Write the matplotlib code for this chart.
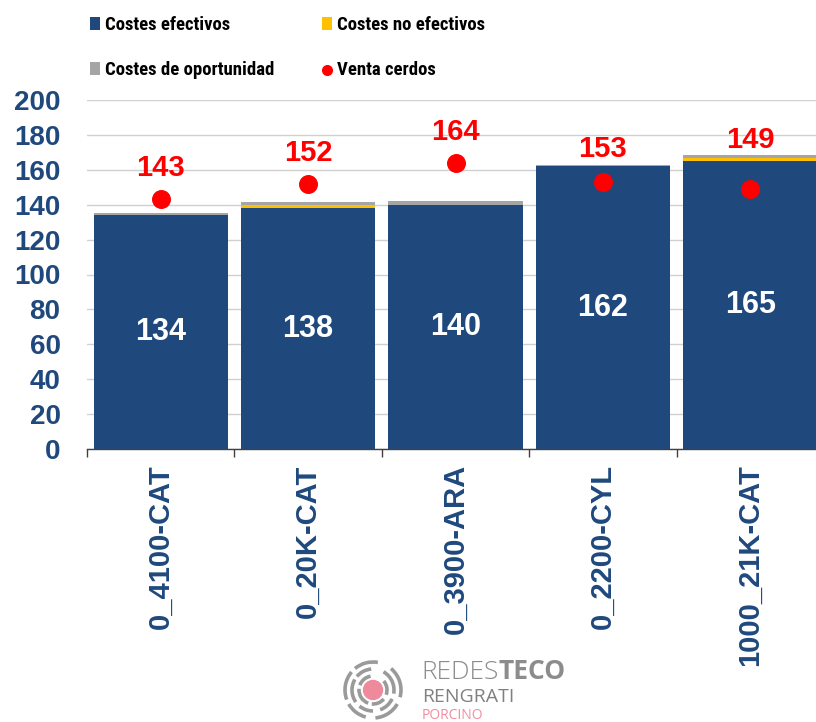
import matplotlib
matplotlib.use("Agg")
import matplotlib.pyplot as plt
import numpy as np
from matplotlib.patches import Arc, Circle
from matplotlib import font_manager

plt.rcParams['font.family'] = ['Liberation Sans', 'DejaVu Sans']

# ---- data ----
categories = ["0_4100-CAT", "0_20K-CAT", "0_3900-ARA", "0_2200-CYL", "1000_21K-CAT"]
costes_efectivos = [134, 138, 140, 162, 165]
costes_no_efectivos = [0, 2, 0, 0, 1.5]
costes_oportunidad = [1.5, 1.5, 2, 1, 1.7]
venta_cerdos = [143, 152, 164, 153, 149]
yticks = list(range(0, 201, 20))

BLUE = '#1F497D'
YELLOW = '#FFC000'
GRAY = '#A5A5A5'
RED = '#FF0000'

W, H = 816, 722
fig = plt.figure(figsize=(W / 100, H / 100), dpi=100)
ax = fig.add_axes([87 / W, 1 - 449 / H, (824 - 87) / W, 349 / H])

x = np.arange(len(categories))
bw = 0.91
ce = np.array(costes_efectivos, float)
cne = np.array(costes_no_efectivos, float)
co = np.array(costes_oportunidad, float)
tot = ce + cne + co

b1 = ax.bar(x, ce, bw, color=BLUE, zorder=2, label="Costes efectivos")
b2 = ax.bar(x, cne, bw, bottom=ce, color=YELLOW, zorder=2, label="Costes no efectivos")
b3 = ax.bar(x, co, bw, bottom=ce + cne, color=GRAY, zorder=2, label="Costes de oportunidad")
sc = ax.scatter(x, venta_cerdos, s=160, color=RED, zorder=4, label="Venta cerdos")

for xi, v in zip(x, costes_efectivos):
    ax.text(xi, v / 2, f"{v:g}", ha='center', va='center', color='white',
            fontsize=22, fontweight='bold', zorder=5)
for xi, v, t in zip(x, venta_cerdos, tot):
    ly = max(v + 13.3, t + 4.3)   # keep label clear of the bar
    ax.text(xi, ly, f"{v:g}", ha='center', va='baseline', color=RED,
            fontsize=21, fontweight='bold', zorder=5)

ax.set_xlim(-0.5, len(categories) - 0.5)
ax.set_ylim(0, 200)
ax.set_yticks(yticks)
ax.set_yticklabels([str(t) for t in yticks])
ax.set_xticks(x)
ax.set_xticklabels(categories, rotation=90)
ax.set_xticks(np.arange(-0.5, len(categories), 1.0), minor=True)
ax.tick_params(axis='x', which='major', length=0, pad=11, labelsize=21,
               labelcolor=BLUE)
ax.tick_params(axis='x', which='minor', length=6, width=1, color='#404040',
               direction='out')
ax.tick_params(axis='y', length=0, pad=19, labelsize=20, labelcolor=BLUE)
for lab in ax.get_xticklabels() + ax.get_yticklabels():
    lab.set_fontweight('bold')

ax.grid(axis='y', color='#D0D0D0', linewidth=1, zorder=0)
ax.set_axisbelow(True)
for s in ['left', 'right', 'top']:
    ax.spines[s].set_visible(False)
ax.spines['bottom'].set_color('#404040')
ax.spines['bottom'].set_linewidth(1)

# legend font: a narrow family if one is installed
names = {f.name for f in font_manager.fontManager.ttflist}
if 'Liberation Sans Narrow' in names:
    lprop = {'family': 'Liberation Sans Narrow', 'weight': 'bold', 'size': 14.5}
elif 'Arial Narrow' in names:
    lprop = {'family': 'Arial Narrow', 'weight': 'bold', 'size': 14.5}
elif 'Roboto Condensed' in names:
    lprop = {'family': 'Roboto Condensed', 'weight': 'bold', 'size': 13.5}
else:
    lprop = {'family': 'Liberation Sans', 'weight': 'bold', 'size': 12.5}

common = dict(loc='upper left', frameon=False, borderpad=0, borderaxespad=0,
              handlelength=0.55, handleheight=0.65, handletextpad=0.25,
              labelspacing=1.45, markerscale=0.55, prop=lprop)
fig.legend([b1, b3], [b1.get_label(), b3.get_label()],
           bbox_to_anchor=(90 / W, 1 - 16 / H), **common)
fig.legend([b2, sc], [b2.get_label(), sc.get_label()],
           bbox_to_anchor=(322 / W, 1 - 16 / H), **common)

# logo
lax = fig.add_axes([341 / W, 0, 64 / W, 64 / H])
lax.set_xlim(-32, 32)
lax.set_ylim(-32, 32)
lax.set_aspect('equal')
lax.axis('off')
lax.add_patch(Circle((0, 0), 9.5, color='#EE8A9B'))
rings = {
    14: [(100, 160), (175, 250), (265, 320), (340, 40)],
    21: [(95, 140), (150, 215), (230, 270), (290, 335), (350, 60)],
    28: [(80, 130), (140, 200), (210, 255), (275, 330), (345, 50)],
}
for r, segs in rings.items():
    for t1, t2 in segs:
        lax.add_patch(Arc((0, 0), 2 * r, 2 * r, theta1=t1, theta2=t2,
                          color='#9A9A9A', linewidth=2.6))

t1 = fig.text(421 / W, 1 - 679 / H, "REDES", family='Open Sans',
              weight='light', fontsize=19, color='#8C8C8C', va='baseline')
lax.annotate("TECO", xy=(1, 0), xycoords=t1, ha='left', va='bottom',
             family='Open Sans', weight='bold', fontsize=19, color='#8C8C8C',
             annotation_clip=False)
fig.text(422 / W, 1 - 702 / H, "RENGRATI", family='Open Sans',
         fontsize=14, color='#808080', va='baseline')
fig.text(422 / W, 1 - 719 / H, "PORCINO", family='Open Sans',
         fontsize=10, color='#F08CA0', va='baseline')

fig.savefig("out.png", dpi=100)
